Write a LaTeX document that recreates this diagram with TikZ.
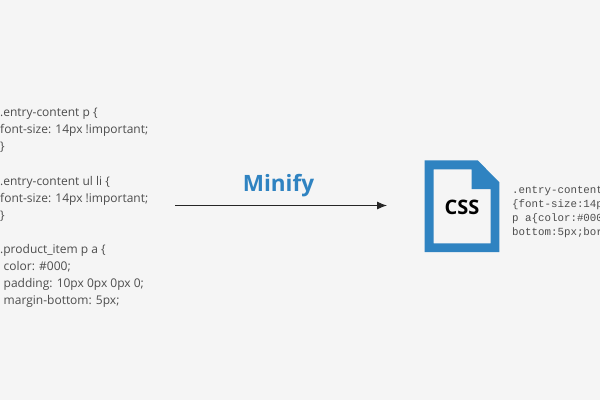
\documentclass[tikz,border=0pt]{standalone}
\usepackage{fontspec}
\setmainfont{Open Sans}
\setmonofont{Liberation Mono}
\definecolor{bg}{HTML}{F5F5F5}
\definecolor{cssblue}{HTML}{2F83C1}
\definecolor{codegray}{HTML}{4D4D4D}
\usetikzlibrary{arrows.meta}
\tikzset{
  codeline/.style={anchor=base west,inner sep=0pt,text=codegray,font=\fontsize{12}{14}\selectfont},
  monoline/.style={anchor=base west,inner sep=0pt,text=codegray,font=\ttfamily\fontsize{10.8}{13}\selectfont},
  flow/.style={draw=black!85,line width=0.9pt,-{Latex[length=10pt,width=8pt]}}
}
\begin{document}
\begin{tikzpicture}[x=1pt,y=-1pt]
\useasboundingbox (0,0) rectangle (600,400);
\fill[bg] (0,0) rectangle (600,400);
\node[codeline] (l1) at (0,116) {.entry-content p \{};
\node[codeline] (l2) at (0,133) {font-size: 14px !important;};
\node[codeline] (l3) at (0,150) {\}};
\node[codeline] (l4) at (0,185) {.entry-content ul li \{};
\node[codeline] (l5) at (0,202) {font-size: 14px !important;};
\node[codeline] (l6) at (0,219) {\}};
\node[codeline] (l7) at (0,253) {.product\_item p a \{};
\node[codeline] (l8) at (3.5,270) {color: \#000;};
\node[codeline] (l9) at (3.5,287) {padding: 10px 0px 0px 0;};
\node[codeline] (l10) at (3.5,304) {margin-bottom: 5px;};
\coordinate (from) at (175,205.5);
\coordinate (to) at (387,205.5);
\draw[flow] (from) -- (to);
\node[anchor=base,inner sep=0pt,text=cssblue,font=\bfseries\fontsize{22.5}{26}\selectfont] (minify) at (278.5,191.5) {Minify};
\fill[cssblue,even odd rule] (424.7,160.3) -- (477.7,160.3) -- (499.3,182.3) -- (499.3,252) -- (424.7,252) -- cycle
  (433.7,169.3) -- (471.7,169.3) -- (471.7,189) -- (490.7,189) -- (490.7,243.3) -- (433.7,243.3) -- cycle;
\node[anchor=base,inner sep=0pt,text=black,font=\bfseries\fontsize{20}{24}\selectfont] (css) at (462,214) {CSS};
\node[monoline] (m1) at (512,193) {.entry-content};
\node[monoline] (m2) at (512,207) {\{font-size:14p};
\node[monoline] (m3) at (512,221) {p a\{color:\#000};
\node[monoline] (m4) at (512,235) {bottom:5px;bor};
\end{tikzpicture}
\end{document}
